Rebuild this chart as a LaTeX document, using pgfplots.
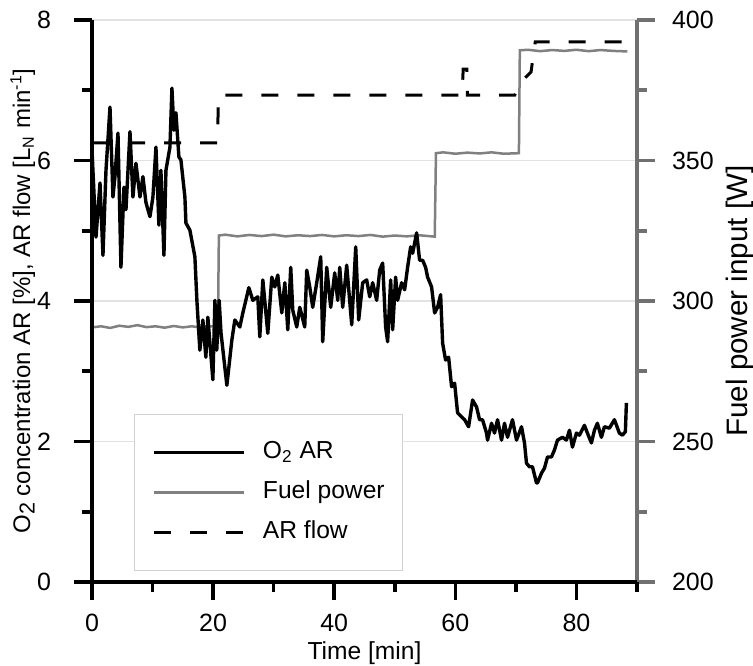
\documentclass[border=0pt]{standalone}
\usepackage{fontspec}
\setmainfont{Liberation Sans}
\usepackage{pgfplots}
\pgfplotsset{compat=1.18}
\definecolor{fuelgrey}{HTML}{808080}
\definecolor{axgrey}{HTML}{707070}
\definecolor{gridgrey}{HTML}{E2E2E2}
\begin{document}
\begin{tikzpicture}[font=\fontsize{12.3}{14}\selectfont]
\pgfplotsset{
  common/.style={
    scale only axis, width=272.5pt, height=281pt,
    xmin=0, xmax=90,
    /pgf/number format/assume math mode=true,
    tick align=outside,
    major tick length=9pt, minor tick length=5pt,
    ticklabel style={font=\fontsize{12.5}{14}\selectfont},
  }
}
% right axis (fuel power), drawn first
\begin{axis}[common, name=axR,
  axis x line=none, axis y line*=right,
  ymin=200, ymax=400,
  ytick={200,250,...,400}, minor ytick={225,275,325,375},
  ymajorgrids, major grid style={gridgrey, line width=0.6pt},
  y axis line style={-, axgrey, line width=1.8pt},
  ytick style={axgrey, line width=1.8pt},
  yticklabel style={xshift=5pt},
  every axis y label/.style={at={(axis description cs:1.189,0.5)}, rotate=90, anchor=center, font=\fontsize{14.8}{17}\selectfont},
  ylabel={Fuel power input [W]},
]
\addplot[fuelgrey, line width=1.25pt] coordinates {
(0,290.6) (1.5,291.0) (3,290.4) (4.5,291.2) (6,290.8) (7.5,291.4) (9,290.7) (10.5,291.0)
(12,290.5) (13.5,291.1) (15,290.6) (16.5,291.0) (18,290.5) (19.5,291.0) (20.8,290.8)
(20.95,323.3) (22,323.6) (24,323.0) (26,323.5) (28,323.1) (30,323.6) (32,323.0) (34,323.4)
(36,323.1) (38,323.5) (40,323.0) (42,323.4) (44,323.1) (46,323.5) (48,322.9) (50,323.3)
(52,323.0) (54,323.4) (56.6,322.9)
(56.8,352.6) (58,352.9) (60,352.4) (62,352.8) (64,352.5) (66,352.9) (68,352.4) (70.5,352.6)
(70.65,389.2) (72,389.4) (74,388.9) (76,389.3) (78,389.0) (80,389.4) (82,388.9) (84,389.3)
(86,389.0) (88.4,388.8)
};
\end{axis}
% left axis (O2 and AR flow)
\begin{axis}[common, name=axL,
  axis x line*=bottom, axis y line*=left,
  ymin=0, ymax=8,
  ytick={0,2,...,8}, minor ytick={1,3,5,7},
  xtick={0,20,...,80}, minor xtick={10,30,...,90},
  axis line style={-, black, line width=1.8pt},
  tick style={black, line width=1.8pt},
  yticklabel style={xshift=-8pt},
  xticklabel style={yshift=-3.5pt},
  every axis x label/.style={at={(axis description cs:0.5,-0.127)}, anchor=center},
  every axis y label/.style={at={(axis description cs:-0.127,0.5)}, rotate=90, anchor=center, font=\fontsize{12}{14}\selectfont},
  xlabel={Time [min]},
  ylabel={O\raisebox{-0.35ex}{\fontsize{10.8}{12}\selectfont 2} concentration AR [\%], AR flow [L\textsubscript{N} min\textsuperscript{-1}]},
  legend cell align=left,
  legend image code/.code={\draw[#1] (0pt,0pt) -- (45pt,0pt);},
  legend style={at={(rel axis cs:0.077,0.0196)}, anchor=south west,
    draw=gray!35, line width=0.6pt, inner xsep=9pt, inner ysep=13pt,
    row sep=8pt, font=\fontsize{12.3}{14}\selectfont,
    nodes={inner sep=0pt, text height=9pt, text depth=3pt},
    /tikz/every odd column/.append style={column sep=8.5pt}},
]
\addplot[black, line width=1.7pt, line join=round] coordinates {
(0,6.15) (0.66,4.91) (1.32,5.68) (1.81,4.65) (2.31,5.86) (2.97,6.76) (3.46,5.48) (3.79,5.77)
(4.29,6.39) (4.78,4.48) (5.28,5.62) (5.61,5.30) (6.27,6.41) (6.76,5.48) (7.26,5.96) (7.92,5.48)
(8.41,5.77) (8.91,5.40) (9.57,5.20) (10.06,5.48) (10.56,6.19) (11.05,5.08) (11.38,5.86) (11.88,4.65)
(12.21,5.86) (12.87,6.19) (13.20,7.03) (13.53,6.43) (13.86,6.68) (14.35,6.05) (14.68,6.01) (15.34,5.48)
(15.51,5.11) (16.16,5.01) (16.99,4.63) (17.32,4.01) (17.81,3.30) (18.31,3.73) (18.80,3.20) (19.13,3.77)
(19.96,2.88) (20.3,4.01) (20.6,3.30) (21.0,4.01) (21.3,3.55) (22.27,2.80) (23.09,3.44) (23.59,3.73)
(24.41,3.63) (24.91,3.83) (25.90,4.19) (26.56,4.01) (27.38,4.06) (27.71,3.49) (28.21,4.30) (29.03,3.54)
(29.69,4.34) (30.19,4.20) (30.68,4.37) (31.34,3.83) (31.84,4.26) (32.33,3.59) (32.82,4.48) (33.15,3.87)
(33.81,3.63) (34.31,3.91) (35.13,3.63) (35.46,4.44) (35.96,4.20) (36.45,3.91) (37.11,4.26) (37.77,4.63)
(38.10,3.42) (38.76,4.48) (39.42,3.91) (40.08,4.40) (40.58,4.01) (40.91,4.48) (41.40,3.91) (42.06,4.51)
(42.89,3.66) (43.55,4.77) (44.04,3.73) (44.70,4.26) (45.36,4.30) (45.86,4.06) (46.35,4.26) (47.01,4.01)
(47.51,4.44) (48.00,4.54) (48.49,3.63) (48.82,3.42) (49.32,4.30) (49.65,3.59) (50.14,4.34) (50.47,4.01)
(51.13,4.26) (51.63,4.16) (52.12,4.48) (52.62,4.77) (52.95,4.68) (53.61,4.97) (54.10,4.58) (54.60,4.58)
(55.09,4.48) (55.42,4.34) (56.08,4.20) (56.58,3.83) (57.07,3.91) (57.57,4.09) (57.90,3.40) (58.39,3.16)
(58.89,3.20) (59.38,2.78) (59.88,2.83) (60.37,2.41) (61.03,2.35) (61.53,2.31) (62.19,2.21) (62.85,2.59)
(63.51,2.49) (64.00,2.31) (64.49,2.31) (65.15,2.12) (65.32,2.02) (65.98,2.26) (66.47,2.12) (66.97,2.31)
(67.63,2.02) (68.12,2.26) (68.62,2.06) (69.44,2.31) (70.10,2.02) (70.93,2.21) (71.42,1.98) (71.75,1.69)
(72.25,1.64) (72.74,1.64) (73.40,1.41) (73.57,1.41) (74.23,1.55) (74.72,1.62) (75.22,1.78) (75.88,1.78)
(76.37,1.88) (76.87,2.02) (77.69,2.06) (78.35,2.02) (78.85,2.16) (79.34,1.92) (80.00,2.12) (80.49,2.09)
(81.32,2.23) (81.81,2.12) (82.47,1.98) (82.97,2.16) (83.46,2.26) (84.12,2.06) (84.62,2.21) (85.44,2.19)
(86.27,2.31) (87.09,2.12) (87.59,2.09) (88.08,2.14) (88.25,2.55)
};
\addlegendentry{O\textsubscript{2} AR}
\addlegendimage{fuelgrey, line width=1.25pt}
\addlegendentry{Fuel power}
\addplot[black, line width=1.5pt, dash pattern=on 8.5pt off 9.5pt] coordinates {
(0,6.25) (20.7,6.25) (20.9,6.93) (61.1,6.93) (61.3,7.30) (61.9,7.30) (62.0,6.93)
(69.8,6.93) (71.2,7.15) (72.5,7.26) (73.2,7.69) (88.3,7.69)
};
\addlegendentry{AR flow}
\end{axis}
\pgfresetboundingbox
\path ([xshift=-46pt,yshift=-41.5pt]axL.south west) rectangle ([xshift=58pt,yshift=10pt]axL.north east);
\end{tikzpicture}
\end{document}
